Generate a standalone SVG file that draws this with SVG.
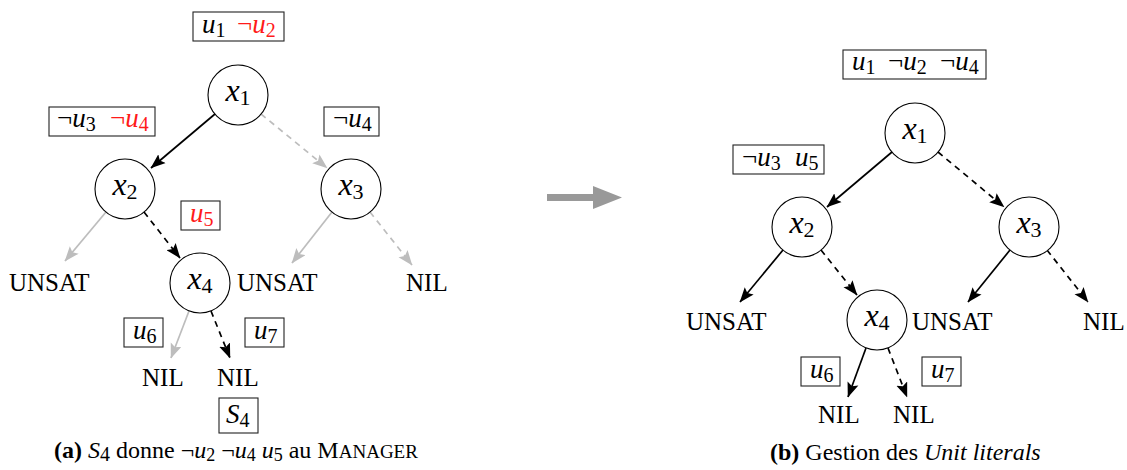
<svg xmlns="http://www.w3.org/2000/svg" width="1127" height="470" viewBox="0 0 1127 470">
<style>
text { font-family: "Liberation Serif", "Times New Roman", serif; fill: #000; }
.nl { font-size: 32px; font-style: italic; text-anchor: middle; }
.bl { font-size: 27px; }
.i { font-style: italic; }
.sb { font-size: 20px; font-style: normal; }
.nsb { font-size: 22px; font-style: normal; }
.lab { font-size: 25px; }
.cap { font-size: 24px; }
.red { fill: #ff1a1a; }
.node { fill: #fff; stroke: #000; stroke-width: 1.1; }
.box { fill: #fff; stroke: #222; stroke-width: 1.1; }
.e { fill: none; stroke-width: 1.7; }
.k { stroke: #000; marker-end: url(#ak); }
.g { stroke: #bdbdbd; marker-end: url(#ag); }
.d { stroke-dasharray: 6 5; }
</style>
<defs>
<marker id="ak" markerUnits="userSpaceOnUse" markerWidth="15" markerHeight="12" viewBox="0 0 13 10" refX="12.5" refY="5" orient="auto"><path d="M0,0 L13,5 L0,10 L2.5,5 z" fill="#000"/></marker>
<marker id="ag" markerUnits="userSpaceOnUse" markerWidth="15" markerHeight="12" viewBox="0 0 13 10" refX="12.5" refY="5" orient="auto"><path d="M0,0 L13,5 L0,10 L2.5,5 z" fill="#bdbdbd"/></marker>
</defs>

<g id="connectors">
<line class="e k" x1="215" y1="114" x2="151" y2="168"/>
<line class="e g d" x1="261" y1="114" x2="327" y2="168"/>
<line class="e g" x1="106" y1="212" x2="65" y2="261"/>
<line class="e k d" x1="144" y1="212" x2="180" y2="258"/>
<line class="e g" x1="332" y1="212" x2="292" y2="263"/>
<line class="e g d" x1="370" y1="212" x2="412" y2="265"/>
<line class="e g" x1="189" y1="311" x2="171" y2="358"/>
<line class="e k d" x1="211" y1="311" x2="230" y2="358"/>

<line class="e k" x1="892" y1="152" x2="827" y2="207"/>
<line class="e k d" x1="938" y1="152" x2="1004" y2="207"/>
<line class="e k" x1="783" y1="250" x2="740" y2="302"/>
<line class="e k d" x1="821" y1="250" x2="857" y2="295"/>
<line class="e k" x1="1010" y1="250" x2="968" y2="302"/>
<line class="e k d" x1="1047" y1="250" x2="1088" y2="302"/>
<line class="e k" x1="866" y1="348" x2="848" y2="397"/>
<line class="e k d" x1="888" y1="348" x2="907" y2="397"/>
</g>

<!-- Left panel -->
<g id="a-box-root"><rect class="box" x="193" y="12" width="91" height="29"/>
<text class="bl" x="202" y="33"><tspan class="i">u</tspan><tspan class="sb" dy="4">1</tspan></text>
<text class="bl red" x="237" y="33">¬<tspan class="i">u</tspan><tspan class="sb" dy="4">2</tspan></text></g>
<g id="a-x1"><circle class="node" cx="238" cy="95" r="30"/><text class="nl" x="238" y="101">x<tspan class="nsb" dy="4">1</tspan></text></g>
<g id="a-box-x2"><rect class="box" x="49" y="107" width="106" height="29"/>
<text class="bl" x="57" y="127">¬<tspan class="i">u</tspan><tspan class="sb" dy="4">3</tspan></text>
<text class="bl red" x="110" y="127">¬<tspan class="i">u</tspan><tspan class="sb" dy="4">4</tspan></text></g>
<g id="a-box-x3"><rect class="box" x="324" y="107" width="55" height="29"/>
<text class="bl" x="333" y="127">¬<tspan class="i">u</tspan><tspan class="sb" dy="4">4</tspan></text></g>
<g id="a-x2"><circle class="node" cx="125" cy="189" r="30"/><text class="nl" x="125" y="195">x<tspan class="nsb" dy="4">2</tspan></text></g>
<g id="a-x3"><circle class="node" cx="351" cy="189" r="30"/><text class="nl" x="351" y="195">x<tspan class="nsb" dy="4">3</tspan></text></g>
<g id="a-box-x4"><rect class="box" x="181" y="201" width="39" height="29"/>
<text class="bl red" x="190" y="222"><tspan class="i">u</tspan><tspan class="sb" dy="4">5</tspan></text></g>
<g id="a-x4"><circle class="node" cx="200" cy="283" r="30"/><text class="nl" x="200" y="289">x<tspan class="nsb" dy="4">4</tspan></text></g>
<g id="a-unsat1"><text class="lab" x="9" y="291">UNSAT</text></g>
<g id="a-unsat2"><text class="lab" x="237" y="291">UNSAT</text></g>
<g id="a-nil3"><text class="lab" x="406" y="291">NIL</text></g>
<g id="a-box-u6"><rect class="box" x="124" y="318" width="39" height="29"/>
<text class="bl" x="133" y="339"><tspan class="i">u</tspan><tspan class="sb" dy="4">6</tspan></text></g>
<g id="a-box-u7"><rect class="box" x="245" y="318" width="39" height="29"/>
<text class="bl" x="254" y="339"><tspan class="i">u</tspan><tspan class="sb" dy="4">7</tspan></text></g>
<g id="a-nil1"><text class="lab" x="142" y="386">NIL</text></g>
<g id="a-nil2"><text class="lab" x="217" y="386">NIL</text></g>
<g id="a-box-s4"><rect class="box" x="219" y="398" width="39" height="35"/>
<text class="bl" x="226" y="423"><tspan class="i">S</tspan><tspan class="sb" dy="4">4</tspan></text></g>
<g id="caption-a"><text class="cap" x="54" y="458"><tspan font-weight="bold">(a)</tspan> <tspan class="i">S</tspan><tspan class="sb" font-size="18" dy="3">4</tspan><tspan dy="-3"> donne ¬</tspan><tspan class="i">u</tspan><tspan font-size="18" dy="3">2</tspan><tspan dy="-3"> ¬</tspan><tspan class="i">u</tspan><tspan font-size="18" dy="3">4</tspan><tspan dy="-3"> </tspan><tspan class="i">u</tspan><tspan font-size="18" dy="3">5</tspan><tspan dy="-3"> au M</tspan><tspan font-size="19">ANAGER</tspan></text></g>

<!-- Transition arrow -->
<g id="transition"><path d="M547,194 L593,194 L593,186 L622,197.5 L593,209 L593,201 L547,201 z" fill="#999"/></g>

<!-- Right panel -->
<g id="b-box-root"><rect class="box" x="843" y="50" width="143" height="29"/>
<text class="bl" x="852" y="70"><tspan class="i">u</tspan><tspan class="sb" dy="4">1</tspan></text>
<text class="bl" x="888" y="70">¬<tspan class="i">u</tspan><tspan class="sb" dy="4">2</tspan></text>
<text class="bl" x="940" y="70">¬<tspan class="i">u</tspan><tspan class="sb" dy="4">4</tspan></text></g>
<g id="b-x1"><circle class="node" cx="915" cy="133" r="30"/><text class="nl" x="915" y="139">x<tspan class="nsb" dy="4">1</tspan></text></g>
<g id="b-box-x2"><rect class="box" x="733" y="145" width="91" height="29"/>
<text class="bl" x="742" y="166">¬<tspan class="i">u</tspan><tspan class="sb" dy="4">3</tspan></text>
<text class="bl" x="795" y="166"><tspan class="i">u</tspan><tspan class="sb" dy="4">5</tspan></text></g>
<g id="b-x2"><circle class="node" cx="802" cy="227" r="30"/><text class="nl" x="802" y="233">x<tspan class="nsb" dy="4">2</tspan></text></g>
<g id="b-x3"><circle class="node" cx="1029" cy="227" r="30"/><text class="nl" x="1029" y="233">x<tspan class="nsb" dy="4">3</tspan></text></g>
<g id="b-x4"><circle class="node" cx="877" cy="320" r="30"/><text class="nl" x="877" y="326">x<tspan class="nsb" dy="4">4</tspan></text></g>
<g id="b-unsat1"><text class="lab" x="686" y="330">UNSAT</text></g>
<g id="b-unsat2"><text class="lab" x="912" y="330">UNSAT</text></g>
<g id="b-nil3"><text class="lab" x="1083" y="330">NIL</text></g>
<g id="b-box-u6"><rect class="box" x="801" y="357" width="39" height="29"/>
<text class="bl" x="810" y="378"><tspan class="i">u</tspan><tspan class="sb" dy="4">6</tspan></text></g>
<g id="b-box-u7"><rect class="box" x="922" y="357" width="39" height="29"/>
<text class="bl" x="931" y="378"><tspan class="i">u</tspan><tspan class="sb" dy="4">7</tspan></text></g>
<g id="b-nil1"><text class="lab" x="818" y="423">NIL</text></g>
<g id="b-nil2"><text class="lab" x="893" y="423">NIL</text></g>
<g id="caption-b"><text class="cap" x="770" y="460"><tspan font-weight="bold">(b)</tspan> Gestion des <tspan class="i">Unit literals</tspan></text></g>
</svg>
